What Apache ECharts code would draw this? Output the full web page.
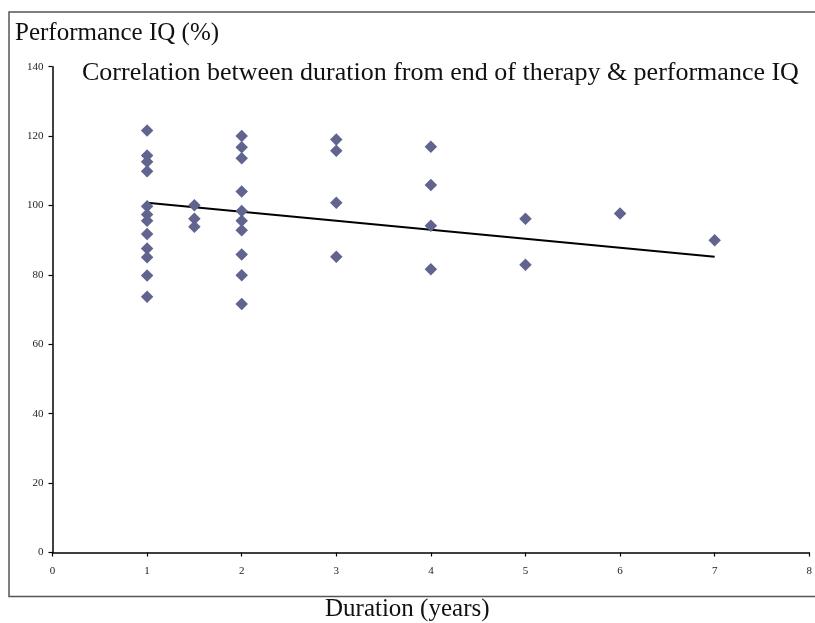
<!DOCTYPE html>
<html>
<head>
<meta charset="utf-8">
<script src="https://cdn.jsdelivr.net/npm/echarts@6/dist/echarts.min.js"></script>
<style>html,body{margin:0;padding:0;background:#fff;}#chart{width:815px;height:623px;}</style>
</head>
<body>
<div id="chart"></div>
<script>
var xTicks = [0, 1, 2, 3, 4, 5, 6, 7, 8];
var yTicks = [0, 20, 40, 60, 80, 100, 120, 140];
var durations = [1,1,1,1,1,1,1,1,1,1,1,1, 1.5,1.5,1.5, 2,2,2,2,2,2,2,2,2,2, 3,3,3,3, 4,4,4,4, 5,5, 6, 7];
var iqValues = [121.6,114.4,112.6,109.9,99.8,97.4,95.6,91.8,87.6,85.1,79.8,73.7,
                100.1,96.2,93.9,
                120.0,116.8,113.6,104.0,98.4,95.6,92.9,85.9,79.9,71.6,
                119.0,115.8,100.8,85.2,
                116.9,105.9,94.2,81.6,
                96.2,82.9,
                97.7,
                90.0];
var trendX = [1, 7];
var trendY = [100.8, 85.2];

var points = durations.map(function (d, i) { return [d, iqValues[i]]; });
var trend = trendX.map(function (d, i) { return [d, trendY[i]]; });

var chart = echarts.init(document.getElementById('chart'), null, {renderer: 'canvas'});
var serif = '"Liberation Serif", "Times New Roman", serif';
chart.setOption({
  animation: false,
  backgroundColor: '#fff',
  grid: {left: 52.5, right: 2.5, top: 66.7, bottom: 70.5, containLabel: false},
  xAxis: {
    type: 'value', min: 0, max: 8, interval: 1,
    axisLine: {show: true, lineStyle: {color: '#000', width: 1.5}},
    axisTick: {show: true, length: 4, lineStyle: {color: '#000', width: 1.2}},
    splitLine: {show: false},
    axisLabel: {color: '#222', fontFamily: serif, fontSize: 11, margin: 13,
      formatter: function (v) { return xTicks.indexOf(v) >= 0 ? String(v) : ''; }}
  },
  yAxis: {
    type: 'value', min: 0, max: 140, interval: 20,
    axisLine: {show: true, lineStyle: {color: '#000', width: 1.5}},
    axisTick: {show: true, length: 4, lineStyle: {color: '#000', width: 1.2}},
    splitLine: {show: false},
    axisLabel: {color: '#222', fontFamily: serif, fontSize: 11, margin: 9,
      formatter: function (v) { return yTicks.indexOf(v) >= 0 ? String(v) : ''; }}
  },
  graphic: [
    {type: 'rect', silent: true, z: -1, shape: {x: 9, y: 12, width: 820, height: 584.5},
     style: {fill: 'none', stroke: '#555', lineWidth: 1.5}},
    {type: 'text', left: 15, top: 21, style: {text: 'Performance IQ (%)', font: '25px ' + serif, fill: '#111'}},
    {type: 'text', left: 82, top: 60, style: {text: 'Correlation between duration from end of therapy & performance IQ', font: '26px ' + serif, fill: '#111'}},
    {type: 'text', left: 325, top: 597, style: {text: 'Duration (years)', font: '25px ' + serif, fill: '#111'}}
  ],
  series: [
    {type: 'scatter', data: points, symbol: 'diamond', symbolSize: 12.5,
     itemStyle: {color: '#60648f', opacity: 1}, z: 3},
    {type: 'line', data: trend, symbol: 'none', lineStyle: {color: '#000', width: 2}, z: 2}
  ]
});
</script>
</body>
</html>
